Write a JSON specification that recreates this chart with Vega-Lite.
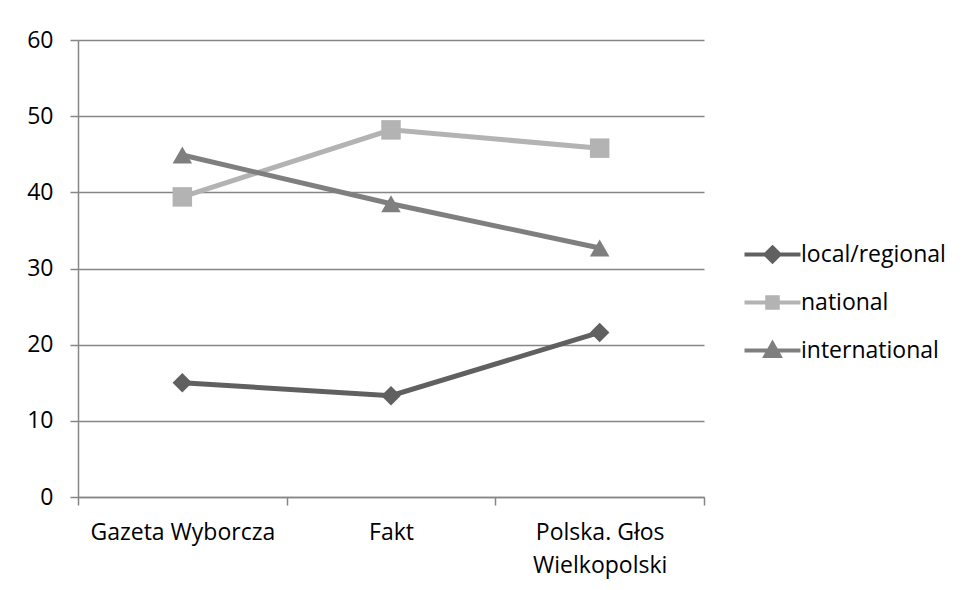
{
  "$schema": "https://vega.github.io/schema/vega-lite/v6.json",
  "width": 626,
  "height": 457,
  "autosize": {"type": "none"},
  "padding": {"left": 78, "top": 40, "right": 261, "bottom": 93},
  "config": {
    "view": {"stroke": null},
    "font": "Open Sans",
    "axis": {"labelFont": "Open Sans", "labelColor": "#000000", "labelFontSize": 23, "labelLimit": 400}
  },
  "data": {
    "values": [
      {"paper": "Gazeta Wyborcza", "series": "local/regional", "value": 15.0},
      {"paper": "Fakt", "series": "local/regional", "value": 13.3},
      {"paper": "Polska. Głos Wielkopolski", "series": "local/regional", "value": 21.6},
      {"paper": "Gazeta Wyborcza", "series": "national", "value": 39.4},
      {"paper": "Fakt", "series": "national", "value": 48.2},
      {"paper": "Polska. Głos Wielkopolski", "series": "national", "value": 45.8},
      {"paper": "Gazeta Wyborcza", "series": "international", "value": 44.9},
      {"paper": "Fakt", "series": "international", "value": 38.5},
      {"paper": "Polska. Głos Wielkopolski", "series": "international", "value": 32.7}
    ]
  },
  "encoding": {
    "x": {
      "field": "paper", "type": "nominal", "sort": null, "bandPosition": 0.5,
      "scale": {"type": "band", "paddingInner": 0, "paddingOuter": 0},
      "axis": {
        "title": null, "labelAngle": 0, "tickBand": "extent", "grid": false,
        "domainColor": "#868686", "domainWidth": 1.5, "tickColor": "#868686",
        "tickSize": 8, "tickWidth": 1.5, "labelPadding": 16, "labelLineHeight": 33,
        "labelBaseline": "top", "labelLimit": 400,
        "labelExpr": "datum.label == 'Polska. Głos Wielkopolski' ? ['Polska. Głos', 'Wielkopolski'] : datum.label"
      }
    },
    "y": {
      "field": "value", "type": "quantitative",
      "scale": {"domain": [0, 60], "nice": false},
      "axis": {
        "title": null, "values": [0, 10, 20, 30, 40, 50, 60], "grid": true,
        "gridColor": "#868686", "gridWidth": 1.5, "domainColor": "#868686", "domainWidth": 1.5,
        "tickColor": "#868686", "tickSize": 8, "tickWidth": 1.5, "labelPadding": 17
      }
    },
    "color": {
      "field": "series", "type": "nominal",
      "scale": {"domain": ["local/regional", "national", "international"], "range": ["#606060", "#b3b3b3", "#7f7f7f"]},
      "legend": {
        "orient": "none", "legendX": 683, "legendY": 203, "title": null, "padding": 0,
        "labelFontSize": 23, "labelColor": "#000000", "labelFont": "Open Sans", "labelOffset": 17,
        "labelLimit": 400, "rowPadding": 19, "symbolSize": 196, "symbolStrokeWidth": 4,
        "encode": {
          "symbols": {
            "update": {
              "shape": {"signal": "datum.value === 'local/regional' ? 'M-4,0H4M0,-1L1,0L0,1L-1,0Z' : datum.value === 'national' ? 'M-4,0H4M-0.75,-0.75H0.75V0.75H-0.75Z' : 'M-4,0H4M0,-1L1,0.8L-1,0.8Z'"},
              "fill": {"scale": "color", "field": "value"},
              "fillOpacity": {"value": 1},
              "stroke": {"scale": "color", "field": "value"}
            }
          }
        }
      }
    }
  },
  "layer": [
    {"mark": {"type": "line", "strokeWidth": 5}},
    {
      "transform": [{"filter": "datum.series === 'local/regional'"}],
      "mark": {"type": "point", "filled": true, "size": 380, "opacity": 1, "shape": "diamond"}
    },
    {
      "transform": [{"filter": "datum.series === 'national'"}],
      "mark": {"type": "point", "filled": true, "size": 380, "opacity": 1, "shape": "square"}
    },
    {
      "transform": [{"filter": "datum.series === 'international'"}],
      "mark": {"type": "point", "filled": true, "size": 380, "opacity": 1, "shape": "triangle-up"}
    }
  ]
}
